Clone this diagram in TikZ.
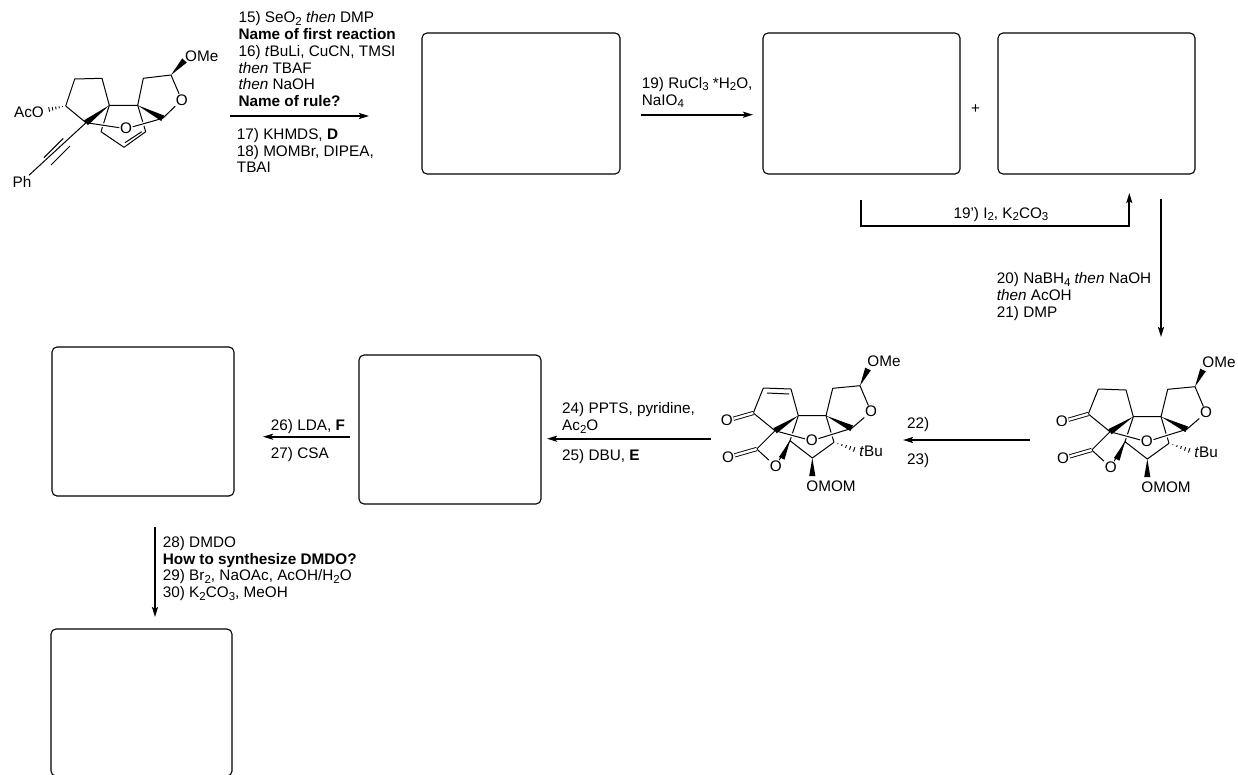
\documentclass[tikz,border=0pt]{standalone}
\usepackage{fontspec}
\setmainfont{Liberation Sans}
\usetikzlibrary{calc,arrows.meta}

\newcommand{\sbs}[1]{\raisebox{-.3ex}{\fontsize{11.5}{11.5}\selectfont #1}}
\newcommand{\wedgebond}[2]{\fill ($(#2)!3.1pt!90:(#1)$) -- ($(#2)!3.1pt!-90:(#1)$) -- (#1) -- cycle;}
\newcommand{\hashbond}[2]{\foreach \t in {.16,.33,.5,.67,.84,1}
  \draw[line width=.9pt] ($(#1)!\t!(#2)!{\t*2.8pt}!90:(#2)$) -- ($(#1)!\t!(#2)!{\t*2.8pt}!-90:(#2)$);}
\newcommand{\lactonecage}{
  \coordinate (k1) at (1088.3,414);
  \coordinate (k2) at (1098.3,389);
  \coordinate (k3) at (1126,390);
  \coordinate (q1) at (1133.3,416.7);
  \coordinate (q2) at (1110,431.7);
  \coordinate (q3) at (1161,416.7);
  \coordinate (f1) at (1167.7,389.3);
  \coordinate (f2) at (1195,386.7);
  \coordinate (f3) at (1186.7,429.3);
  \coordinate (m1) at (1125,441.7);
  \coordinate (m2) at (1147.3,459);
  \coordinate (m3) at (1169,443.3);
  \coordinate (l1) at (1091.7,450);
  \node[atom] (oxo1) at (1061.7,421.7) {O};
  \node[atom] (oxo2) at (1063,458.3) {O};
  \node[atom] (olac) at (1110.7,467.3) {O};
  \node[atom] (ofur) at (1206,412.7) {O};
  \node[atom] (obrg) at (1146.7,441.7) {O};
  \node[atom] (ome) at (1219,362.7) {OMe};
  \node[atom] (omom) at (1166,487) {OMOM};
  \node[atom] (tbu) at (1206,452.7) {\textit{t}Bu};
  \coordinate (w1) at (1203,370);
  \coordinate (w2) at (1116.7,459.3);
  \coordinate (w3) at (1147.3,477);
  \coordinate (w4) at (1193,451.7);
  \draw[bond] (q1) -- (m1);
  \draw[bond] (q3) -- (m3);
  \draw[bond,halo] (q2) -- (obrg);
  \draw[bond,halo] (f3) -- (obrg);
  \draw[bond] (k3) -- (q1) -- (q3) -- (f1) -- (f2) -- (ofur) -- (f3);
  \draw[bond] (k2) -- (k1) -- (q2) -- (l1) -- (olac);
  \draw[bond] (olac) -- (m1) -- (m2) -- (m3);
  \draw[dbond] (k1) -- (oxo1);
  \draw[dbond] (l1) -- (oxo2);
  \wedgebond{q1}{q2}
  \wedgebond{q3}{f3}
  \wedgebond{f2}{w1}
  \wedgebond{m1}{w2}
  \wedgebond{m2}{w3}
  \hashbond{m3}{w4}
}

\tikzset{
 molbox/.style={draw,line width=1.1pt,rounded corners=5pt,inner sep=0},
 rxn/.style={line width=1.8pt,-{Stealth[length=10pt,width=6pt,inset=2pt]}},
 bond/.style={line width=1pt,line join=round},
 dbond/.style={double,double distance=2.4pt,line width=.9pt},
 halo/.style={preaction={draw=white,line width=4pt}},
 atom/.style={inner sep=.6pt,font=\fontsize{15.3}{16.8}\selectfont},
 reagent/.style={anchor=north west,align=left,inner sep=0,font=\fontsize{15.3}{16.8}\selectfont}
}

\begin{document}
\begin{tikzpicture}[x=1pt,y=-1pt]
 \clip (0,0) rectangle (1238,774);

 % empty boxes
 \node[molbox,minimum width=198pt,minimum height=141pt] (box1) at (521,103.5) {};
 \node[molbox,minimum width=197pt,minimum height=141pt] (box2) at (861.5,103.5) {};
 \node[molbox,minimum width=197pt,minimum height=141pt] (box3) at (1096.5,103.5) {};
 \node[molbox,minimum width=182pt,minimum height=149pt] (box4) at (143,421.5) {};
 \node[molbox,minimum width=182pt,minimum height=149pt] (box5) at (450,429.5) {};
 \node[molbox,minimum width=181pt,minimum height=147pt] (box6) at (141.5,702.5) {};
 \node[atom] (plus) at (975.7,109) {+};

 % arrows
 \coordinate (a1s) at (230,116);
 \coordinate (a1e) at (369,116);
 \coordinate (a2s) at (641,114.7);
 \coordinate (a2e) at (753,114.7);
 \coordinate (b1) at (860.7,200);
 \coordinate (b2) at (860.7,225.7);
 \coordinate (b3) at (1129.3,225.7);
 \coordinate (b4) at (1129.3,193);
 \coordinate (a3s) at (1161,199);
 \coordinate (a3e) at (1161,337);
 \coordinate (a4s) at (1030,440);
 \coordinate (a4e) at (903,440);
 \coordinate (a5s) at (711,438.7);
 \coordinate (a5e) at (547,438.7);
 \coordinate (a6s) at (350,436.7);
 \coordinate (a6e) at (263,436.7);
 \coordinate (a7s) at (155,527);
 \coordinate (a7e) at (155,617);
 \draw[rxn] (a1s) -- (a1e);
 \draw[rxn] (a2s) -- (a2e);
 \draw[rxn] (b1) -- (b2) -- (b3) -- (b4);
 \draw[rxn] (a3s) -- (a3e);
 \draw[rxn] (a4s) -- (a4e);
 \draw[rxn] (a5s) -- (a5e);
 \draw[rxn] (a6s) -- (a6e);
 \draw[rxn] (a7s) -- (a7e);

 % reagents
 \node[reagent] (r15) at (238.3,11.5) {15) SeO\sbs{2} \textit{then} DMP\\\textbf{Name of first reaction}\\16) \textit{t}BuLi, CuCN, TMSI\\\textit{then} TBAF\\\textit{then} NaOH\\\textbf{Name of rule?}};
 \node[reagent] (r17) at (236.7,128) {17) KHMDS, \textbf{D}\\18) MOMBr, DIPEA,\\TBAI};
 \node[reagent] (r19) at (641.7,77) {19) RuCl\sbs{3} *H\sbs{2}O,\\NaIO\sbs{4}};
 \node[reagent] (r19b) at (953.3,207) {19') I\sbs{2}, K\sbs{2}CO\sbs{3}};
 \node[reagent] (r20) at (996.7,272.5) {20) NaBH\sbs{4} \textit{then} NaOH\\\textit{then} AcOH\\21) DMP};
 \node[reagent] (r22) at (907,417) {22)};
 \node[reagent] (r23) at (907,453) {23)};
 \node[reagent] (r24) at (562,402.5) {24) PPTS, pyridine,\\Ac\sbs{2}O};
 \node[reagent] (r25) at (562,449) {25) DBU, \textbf{E}};
 \node[reagent] (r26) at (270.7,419) {26) LDA, \textbf{F}};
 \node[reagent] (r27) at (270.7,447) {27) CSA};
 \node[reagent] (r28) at (162.7,536) {28) DMDO\\\textbf{How to synthesize DMDO?}\\29) Br\sbs{2}, NaOAc, AcOH/H\sbs{2}O\\30) K\sbs{2}CO\sbs{3}, MeOH};

 % starting material
 \coordinate (s1) at (65.7,106);
 \coordinate (s2) at (74.7,79);
 \coordinate (s3) at (102,78.3);
 \coordinate (s4) at (109.3,105.3);
 \coordinate (s5) at (86,122.7);
 \coordinate (s6) at (137.7,105.3);
 \coordinate (s7) at (143.3,78.3);
 \coordinate (s8) at (171,75);
 \coordinate (s9) at (162.7,118.3);
 \coordinate (e1) at (101,131.7);
 \coordinate (e2) at (124,147.3);
 \coordinate (e3) at (145.7,131.7);
 \coordinate (h1) at (46,110);
 \coordinate (w5) at (184.5,60.5);
 \node[atom] (aco) at (29,112.7) {AcO};
 \node[atom] (ph) at (22,181.7) {Ph};
 \node[atom] (ome1) at (201.7,56) {OMe};
 \node[atom] (ofur1) at (181.7,100) {O};
 \node[atom] (obrg1) at (126,128.7) {O};
 \draw[bond] (s4) -- (e1) -- (e2) -- (e3) -- (s6);
 \draw[bond] (125,142.7) -- (141.7,131.7);
 \draw[bond,halo] (s5) -- (obrg1);
 \draw[bond,halo] (s9) -- (obrg1);
 \draw[bond] (s5) -- (s1) -- (s2) -- (s3) -- (s4) -- (s6) -- (s7) -- (s8) -- (ofur1) -- (s9);
 \draw[bond] (s5) -- (ph);
 \draw[bond] (44,157.7) -- (63.3,138.3);
 \draw[bond] (51,165) -- (70,146);
 \wedgebond{s4}{s5}
 \wedgebond{s6}{s9}
 \wedgebond{s8}{w5}
 \hashbond{s1}{h1}

 % the two cage compounds
 \begin{scope}
  \lactonecage
  \draw[bond] (k2) -- (k3);
 \end{scope}
 \begin{scope}[shift={(-335,-1)}]
  \lactonecage
  \draw[bond] (k2) -- (k3);
  \draw[bond] (1102,394) -- (1124,395);
 \end{scope}

\end{tikzpicture}
\end{document}
